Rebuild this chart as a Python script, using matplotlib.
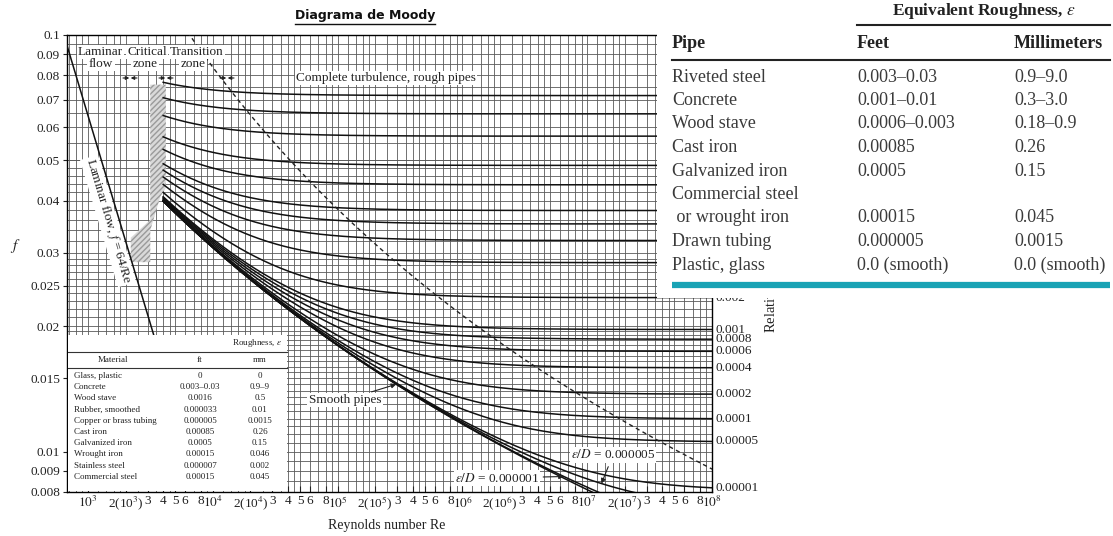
import numpy as np
import matplotlib
matplotlib.use('Agg')
import matplotlib.pyplot as plt
from matplotlib.patches import Rectangle, Polygon
from matplotlib.lines import Line2D

plt.rcParams['font.family'] = ['Liberation Serif', 'DejaVu Serif']
plt.rcParams['mathtext.fontset'] = 'stix'

W, H = 1113, 536

# relative roughness of the drawn curves (right-hand scale)
rel_rough = [0.05, 0.04, 0.03, 0.02, 0.015, 0.01, 0.008, 0.006, 0.004, 0.002,
             0.001, 0.0008, 0.0006, 0.0004, 0.0002, 0.0001, 0.00005, 0.00001]
rel_rough_labels = ['0.05', '0.04', '0.03', '0.02', '0.015', '0.01', '0.008', '0.006',
                    '0.004', '0.002', '0.001', '0.0008', '0.0006', '0.0004', '0.0002',
                    '0.0001', '0.00005', '0.00001']
small_rough = [0.000005, 0.000001, 0.0]   # last one = smooth pipes

f_ticks = [0.008, 0.009, 0.01, 0.015, 0.02, 0.025, 0.03, 0.04, 0.05, 0.06, 0.07, 0.08, 0.09, 0.1]
f_tick_labels = ['0.008', '0.009', '0.01', '0.015', '0.02', '0.025', '0.03', '0.04',
                 '0.05', '0.06', '0.07', '0.08', '0.09', '0.1']
re_decades = [3, 4, 5, 6, 7]
re_mult = [1, 2, 3, 4, 5, 6, 8]

# critical zone outline (Re, f)
crit_re = [3300, 4200, 4200, 3800, 3150, 3150, 2200, 2200, 3150, 3150]
crit_f = [0.076, 0.076, 0.043, 0.041, 0.034, 0.0285, 0.0285, 0.0326, 0.036, 0.076]

# small table inside the chart
mat_names = ['Glass, plastic', 'Concrete', 'Wood stave', 'Rubber, smoothed',
             'Copper or brass tubing', 'Cast iron', 'Galvanized iron', 'Wrought iron',
             'Stainless steel', 'Commercial steel']
mat_ft = ['0', '0.003\u20130.03', '0.0016', '0.000033', '0.000005', '0.00085', '0.0005',
          '0.00015', '0.000007', '0.00015']
mat_mm = ['0', '0.9\u20139', '0.5', '0.01', '0.0015', '0.26', '0.15', '0.046', '0.002', '0.045']

# table on the right
pipe_names = ['Riveted steel', 'Concrete', 'Wood stave', 'Cast iron', 'Galvanized iron',
              'Commercial steel', ' or wrought iron', 'Drawn tubing', 'Plastic, glass']
pipe_ft = ['0.003\u20130.03', '0.001\u20130.01', '0.0006\u20130.003', '0.00085', '0.0005',
           '', '0.00015', '0.000005', '0.0 (smooth)']
pipe_mm = ['0.9\u20139.0', '0.3\u20133.0', '0.18\u20130.9', '0.26', '0.15', '', '0.045',
           '0.0015', '0.0 (smooth)']


def colebrook(re, rr):
    f = np.full_like(re, 0.02)
    for _ in range(80):
        f = (-2 * np.log10(rr / 3.7 + 2.51 / (re * np.sqrt(f)))) ** -2
    return f


def fx(x):
    return x / W


def fy(y):
    return 1 - y / H


def fp(x, y):
    return (x, H - y)


fig = plt.figure(figsize=(W / 100, H / 100), dpi=100)
ax = fig.add_axes([fx(67), fy(492), (712 - 67) / W, (492 - 35) / H])
ax.set_xscale('log')
ax.set_yscale('log')
ax.set_xlim(678, 1e8)
ax.set_ylim(0.008, 0.1)

# dense grid
gmult = [1, 1.2, 1.4, 1.6, 1.8, 2, 2.5, 3, 3.5, 4, 4.5, 5, 6, 7, 8, 9]
for d in range(2, 8):
    for m in gmult:
        v = m * 10 ** d
        if 678 < v < 1e8:
            ax.axvline(v, color='#5a5a5a', lw=0.6, zorder=1)
fgrid = list(np.arange(0.008, 0.02, 0.0005)) + list(np.arange(0.02, 0.03, 0.001)) + \
    list(np.arange(0.03, 0.05, 0.002)) + list(np.arange(0.05, 0.1, 0.005))
for v in fgrid:
    ax.axhline(v, color='#5a5a5a', lw=0.6, zorder=1)

# critical zone
ax.add_patch(Polygon(list(zip(crit_re, crit_f)), closed=True, facecolor='#d9d9d9',
                     edgecolor='#9a9a9a', hatch='//////', lw=0, zorder=2))

# laminar line
re_lam = np.array([600, 4500])
ax.plot(re_lam, 64 / re_lam, color='#111111', lw=1.1, zorder=3)

# turbulent curves
re = np.logspace(np.log10(4000), 8, 400)
for rr in rel_rough + small_rough:
    ax.plot(re, colebrook(re, rr), color='#111111', lw=1.1, zorder=3)

# complete turbulence boundary
rr_b = np.logspace(-1, np.log10(1.5e-5), 200)
f_b = (-2 * np.log10(rr_b / 3.7)) ** -2
re_b = 200 / (rr_b * np.sqrt(f_b))
ax.plot(re_b, f_b, color='#222222', lw=1.0, ls=(0, (3, 2.5)), zorder=3)

# axes ticks
xt, xl = [], []
for d in re_decades:
    for m in re_mult:
        xt.append(m * 10 ** d)
        if m == 1:
            xl.append('$10^{%d}$' % d)
        elif m == 2:
            xl.append('2(10$^{%d}$)' % d)
        else:
            xl.append(str(m))
xt.append(1e8)
xl.append('$10^{8}$')
ax.set_xticks(xt, xl, fontsize=9.5)
ax.xaxis.set_minor_locator(matplotlib.ticker.NullLocator())
ax.set_yticks(f_ticks, f_tick_labels, fontsize=9.5)
ax.yaxis.set_minor_locator(matplotlib.ticker.NullLocator())
ax.tick_params(axis='x', direction='in', length=4, pad=2, colors='#222222')
ax.tick_params(axis='y', direction='out', length=3, pad=2, colors='#222222')
for s in ax.spines.values():
    s.set_linewidth(1.0)

# relative roughness labels on the right
for rr, lab in zip(rel_rough, rel_rough_labels):
    fv = colebrook(np.array([1e8]), rr)[0]
    ax.text(1.006, fv, lab, transform=ax.get_yaxis_transform(), fontsize=9.5,
            va='center', ha='left', color='#222222', clip_on=False)

fig.text(fx(772), fy(333), 'Relative roughness, $\\varepsilon/D$', rotation=90,
         rotation_mode='anchor', ha='left', va='center', fontsize=10.5, color='#222222',
         zorder=1)
fig.text(fx(15), fy(246), '$f$', fontsize=11, ha='center', va='center', color='#222222')
fig.text(fx(387), fy(525), 'Reynolds number Re', fontsize=10, ha='center', va='center',
         color='#222222')

bw = dict(boxstyle='square,pad=0.1', fc='white', ec='none')

# laminar label along the line
fig.canvas.draw()
p1 = ax.transData.transform((1000, 0.064))
p2 = ax.transData.transform((3000, 64 / 3000))
ang = np.degrees(np.arctan2(p2[1] - p1[1], p2[0] - p1[0]))
ax.annotate('Laminar flow, $f$ = 64/Re', xy=fp(108, 221), xycoords='figure pixels',
            rotation=ang, ha='center', va='center', fontsize=9.5, color='#222222',
            rotation_mode='anchor', bbox=bw, zorder=4)

ax.annotate('Complete turbulence, rough pipes', xy=fp(296, 78), xycoords='figure pixels',
            ha='left', va='center', fontsize=9.5, color='#222222', bbox=bw, zorder=4)
for txt, x in [('Laminar', 78), ('Critical', 127), ('Transition', 170)]:
    ax.annotate(txt, xy=fp(x, 52), xycoords='figure pixels', ha='left', va='center',
                fontsize=9.5, color='#222222', bbox=bw, zorder=4)
for txt, x in [('flow', 101), ('zone', 145), ('zone', 193)]:
    ax.annotate(txt, xy=fp(x, 64), xycoords='figure pixels', ha='center', va='center',
                fontsize=9.5, color='#222222', bbox=bw, zorder=4)
for x in [130, 166, 227]:
    for dx in (-7, 7):
        ax.annotate('', xy=fp(x + dx * 0.1, 78), xytext=fp(x + dx, 78),
                    xycoords='figure pixels', textcoords='figure pixels',
                    arrowprops=dict(arrowstyle='-|>', color='#222222', lw=0.8,
                                    mutation_scale=5, shrinkA=0, shrinkB=0), zorder=4)

# curve call-outs
re_s = 2.95e5
ax.annotate('Smooth pipes', xy=(re_s, colebrook(np.array([re_s]), 0.0)[0]),
            xytext=fp(345, 400), textcoords='figure pixels', ha='center', va='center',
            fontsize=9.5, color='#222222', bbox=bw, zorder=4,
            arrowprops=dict(arrowstyle='-|>', color='#222222', lw=0.8, mutation_scale=7,
                            shrinkA=2, shrinkB=0))
re_5 = 1.3e7
ax.annotate('$\\varepsilon/D$ = 0.000005', xy=(re_5, colebrook(np.array([re_5]), 5e-6)[0]),
            xytext=fp(613, 455), textcoords='figure pixels', ha='center', va='center',
            fontsize=9.5, color='#222222', bbox=bw, zorder=4,
            arrowprops=dict(arrowstyle='-|>', color='#222222', lw=0.8, mutation_scale=7,
                            shrinkA=3, shrinkB=0))
re_1 = 6.5e6
ax.annotate('$\\varepsilon/D$ = 0.000001', xy=(re_1, colebrook(np.array([re_1]), 1e-6)[0]),
            xytext=fp(497, 478), textcoords='figure pixels', ha='center', va='center',
            fontsize=9.5, color='#222222', bbox=bw, zorder=4,
            arrowprops=dict(arrowstyle='-|>', color='#222222', lw=0.8, mutation_scale=7,
                            shrinkA=2, shrinkB=0))

# inset table (lower left)
fig.add_artist(Rectangle((fx(68), fy(491)), (287 - 68) / W, (491 - 335) / H,
                         transform=fig.transFigure, fc='white', ec='none', zorder=2))
ts = 6.5
fig.text(fx(282), fy(343), 'Roughness, $\\varepsilon$', fontsize=ts, ha='right', va='center',
         color='#222222')
for y in (352, 368):
    fig.add_artist(Line2D([fx(68), fx(287)], [fy(y), fy(y)], transform=fig.transFigure,
                          color='#333333', lw=0.8, zorder=3))
fig.text(fx(113), fy(360), 'Material', fontsize=ts, ha='center', va='center', color='#222222')
fig.text(fx(200), fy(360), 'ft', fontsize=ts, ha='center', va='center', color='#222222')
fig.text(fx(260), fy(360), 'mm', fontsize=ts, ha='center', va='center', color='#222222')
for i, (n, a, b) in enumerate(zip(mat_names, mat_ft, mat_mm)):
    y = 376 + i * 11.2
    fig.text(fx(74), fy(y), n, fontsize=ts, ha='left', va='center', color='#222222')
    fig.text(fx(200), fy(y), a, fontsize=ts, ha='center', va='center', color='#222222')
    fig.text(fx(260), fy(y), b, fontsize=ts, ha='center', va='center', color='#222222')

# table on the right
fig.add_artist(Rectangle((fx(657), fy(298)), (W - 657) / W, 298 / H,
                         transform=fig.transFigure, fc='white', ec='none', zorder=2))
fs = 13
fig.text(fx(984), fy(11), 'Equivalent Roughness, $\\varepsilon$', fontsize=fs - 0.5,
         weight='bold', ha='center', va='center', color='#222222')
fig.add_artist(Line2D([fx(857), fx(1110)], [fy(25), fy(25)], transform=fig.transFigure,
                      color='#222222', lw=1.5, zorder=3))
for txt, x in [('Pipe', 672), ('Feet', 857), ('Millimeters', 1014)]:
    fig.text(fx(x), fy(43), txt, fontsize=fs, weight='bold', ha='left', va='center',
             color='#222222')
fig.add_artist(Line2D([fx(672), fx(1110)], [fy(60), fy(60)], transform=fig.transFigure,
                      color='#222222', lw=1.5, zorder=3))
for i, (n, a, b) in enumerate(zip(pipe_names, pipe_ft, pipe_mm)):
    y = 77 + i * 23.5
    fig.text(fx(672), fy(y), n, fontsize=fs, ha='left', va='center', color='#3a3a3a')
    fig.text(fx(857), fy(y), a, fontsize=fs, ha='left', va='center', color='#3a3a3a')
    fig.text(fx(1014), fy(y), b, fontsize=fs, ha='left', va='center', color='#3a3a3a')
fig.add_artist(Line2D([fx(672), fx(1110)], [fy(285), fy(285)], transform=fig.transFigure,
                      color='#19a3b5', lw=4.5, zorder=3, solid_capstyle='butt'))

# title with underline
t = fig.text(fx(365), fy(16), 'Diagrama de Moody', fontfamily='DejaVu Sans', weight='bold',
             fontsize=9, ha='center', va='center', color='#111111')
fig.canvas.draw()
bb = t.get_window_extent()
fig.add_artist(Line2D([bb.x0 / W, bb.x1 / W], [(bb.y0 - 1) / H, (bb.y0 - 1) / H],
                      transform=fig.transFigure, color='#111111', lw=1.0))

fig.savefig('out.png', dpi=100)
